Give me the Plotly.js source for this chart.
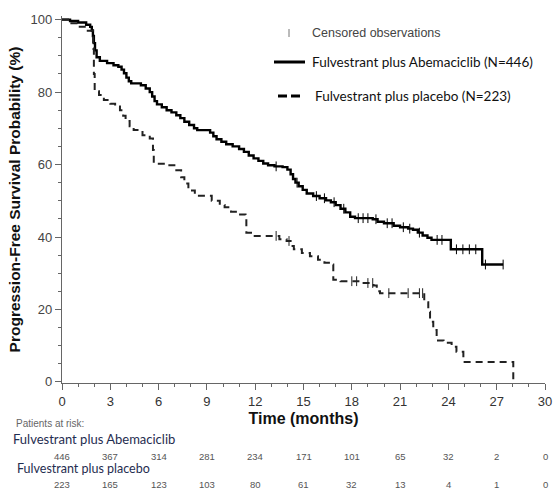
<!DOCTYPE html>
<html>
<head>
<meta charset="utf-8">
<script src="https://cdn.plot.ly/plotly-3.0.1.min.js"></script>
<style>html,body{margin:0;padding:0;background:#fff}#chart{width:557px;height:489px}</style>
</head>
<body>
<div id="chart"></div>
<script>
// Kaplan-Meier step points
const abemaTime = [0,0.5,1.0,1.5,1.75,1.85,1.92,1.98,2.05,2.15,2.35,2.8,3.2,3.5,3.7,3.85,4.0,4.15,4.3,4.9,5.2,5.45,5.6,5.75,5.9,6.2,6.5,6.8,7.1,7.35,7.6,7.9,8.2,8.4,9.2,9.4,9.6,9.9,10.2,10.6,11.0,11.3,11.6,11.9,12.2,12.5,12.8,13.2,13.7,14.0,14.2,14.35,14.5,14.7,14.95,15.2,15.6,16.0,16.4,16.7,17.0,17.3,17.6,17.9,18.2,19.3,19.6,20.0,20.6,21.0,21.5,21.8,22.1,22.4,22.7,22.95,24.15,26.1,27.4];
const abemaSurv = [100,99.6,99.2,98.6,98.0,97.0,95.5,93.5,91.5,89.6,88.6,88.0,87.4,87.0,86.2,85.2,84.0,83.0,82.4,81.9,81.0,80.0,78.8,77.5,76.6,75.8,75.0,74.4,73.6,72.8,71.8,70.9,70.0,69.5,68.8,67.8,67.0,66.3,65.6,65.0,64.3,63.5,62.5,61.7,61.0,60.3,59.8,59.5,59.3,58.6,57.3,56.0,55.0,54.0,53.0,52.0,51.3,50.7,50.1,49.6,48.8,47.8,46.8,45.6,45.2,44.9,44.2,43.8,43.1,42.7,42.3,42.0,41.2,40.4,39.8,39.2,36.6,32.4,32.4];

const placeboTime = [0,0.5,0.9,1.6,1.93,1.98,2.03,2.3,2.6,3.0,3.3,3.6,3.8,3.95,4.2,4.45,5.0,5.45,5.65,5.7,6.5,7.1,7.4,7.6,7.85,8.25,9.3,9.8,10.1,10.5,10.8,11.4,11.45,11.9,13.5,13.95,14.2,14.4,14.9,15.4,15.9,16.3,16.7,16.85,17.3,18.5,19.35,19.55,19.75,22.5,22.75,22.86,23.06,23.27,23.7,24.2,24.5,24.93,28.03];
const placeboSurv = [100,99.0,98.0,96.9,92.0,85.0,80.2,79.2,77.8,76.8,76.0,75.0,73.5,72.0,70.6,69.5,68.1,67.2,64.0,60.2,59.8,58.4,56.5,54.8,52.8,51.4,50.0,48.8,48.2,47.0,46.2,45.6,41.2,40.3,39.4,38.9,37.5,36.6,35.6,34.7,33.7,32.9,32.4,28.2,27.8,27.3,26.6,25.0,24.5,22.0,19.4,16.6,14.3,11.4,10.8,9.7,8.3,5.5,0];

// censored observation times
const abemaCensor = [13.3,14.6,15.8,16.3,16.9,17.5,18.4,18.7,19.0,19.5,20.2,20.5,21.2,21.6,22.2,23.3,23.6,24.5,24.9,25.3,25.7,26.3,27.4];
const placeboCensor = [13.3,14.1,18.0,18.3,19.0,19.3,20.3,21.5,22.2,22.4];

// at-risk table
const riskTimes = [0,3,6,9,12,15,18,21,24,27,30];
const abemaRisk = [446,367,314,281,234,171,101,65,32,2,0];
const placeboRisk = [223,165,123,103,80,61,32,13,4,1,0];

const armAbema = "Fulvestrant plus Abemaciclib";
const armPlacebo = "Fulvestrant plus placebo";
const legendCensor = "Censored observations";
const legendAbema = "Fulvestrant plus Abemaciclib (N=446)";
const legendPlacebo = "Fulvestrant plus placebo (N=223)";

function stepAt(times, surv, t){
  let v = surv[0];
  for (let i=0;i<times.length;i++){ if (times[i] <= t) v = surv[i]; else break; }
  return v;
}

const traces = [
  {x: abemaTime, y: abemaSurv, type:'scatter', mode:'lines', line:{shape:'hv', color:'#000', width:2.4}, showlegend:false, hoverinfo:'skip'},
  {x: placeboTime, y: placeboSurv, type:'scatter', mode:'lines', line:{shape:'hv', color:'#222', width:2, dash:'7px,5px'}, showlegend:false, hoverinfo:'skip'},
  {x: abemaCensor, y: abemaCensor.map(t=>stepAt(abemaTime, abemaSurv, t)), type:'scatter', mode:'markers', marker:{symbol:'line-ns-open', size:7, color:'#000', line:{width:1, color:'#000'}}, showlegend:false, hoverinfo:'skip'},
  {x: placeboCensor, y: placeboCensor.map(t=>stepAt(placeboTime, placeboSurv, t)), type:'scatter', mode:'markers', marker:{symbol:'line-ns-open', size:7, color:'#222', line:{width:1, color:'#222'}}, showlegend:false, hoverinfo:'skip'}
];

// paper coordinate helpers (plot area: top 16px, bottom 383px)
const T = 16, B = 383, H = B - T;
const py = p => (B - p) / H;
const L = 62, R = 545, W = R - L;
const px = p => (p - L) / W;

const annotations = [];
annotations.push({xref:'paper', yref:'paper', x:px(310), y:py(33), xanchor:'left', yanchor:'middle', text:legendCensor, showarrow:false, font:{family:'Liberation Sans, Arial', size:12.5, color:'#444'}});
annotations.push({xref:'paper', yref:'paper', x:px(310), y:py(62), xanchor:'left', yanchor:'middle', text:legendAbema, showarrow:false, font:{family:'Lato, Open Sans', size:13.5, color:'#111'}});
annotations.push({xref:'paper', yref:'paper', x:px(313), y:py(96), xanchor:'left', yanchor:'middle', text:legendPlacebo, showarrow:false, font:{family:'Lato, Open Sans', size:13.5, color:'#111'}});
annotations.push({xref:'paper', yref:'paper', x:px(14), y:py(423), xanchor:'left', yanchor:'middle', text:'Patients at risk:', showarrow:false, font:{family:'Liberation Sans, Arial', size:10, color:'#666'}});
annotations.push({xref:'paper', yref:'paper', x:px(11), y:py(439), xanchor:'left', yanchor:'middle', text:armAbema, showarrow:false, font:{family:'Lato, Open Sans', size:13, color:'#1f2d50'}});
annotations.push({xref:'paper', yref:'paper', x:px(15), y:py(469), xanchor:'left', yanchor:'middle', text:armPlacebo, showarrow:false, font:{family:'Lato, Open Sans', size:12.5, color:'#1f2d50'}});
riskTimes.forEach((t,i)=>{
  annotations.push({xref:'x', yref:'paper', x:t, y:py(456), xanchor:'center', yanchor:'middle', text:String(abemaRisk[i]), showarrow:false, font:{family:'Liberation Sans, Arial', size:9.5, color:'#555'}});
  annotations.push({xref:'x', yref:'paper', x:t, y:py(484), xanchor:'center', yanchor:'middle', text:String(placeboRisk[i]), showarrow:false, font:{family:'Liberation Sans, Arial', size:9.5, color:'#555'}});
});

const shapes = [
  {type:'line', xref:'paper', yref:'paper', x0:px(289), x1:px(289), y0:py(29), y1:py(37), line:{color:'#777', width:1}},
  {type:'line', xref:'paper', yref:'paper', x0:px(274), x1:px(305), y0:py(62), y1:py(62), line:{color:'#000', width:3}},
  {type:'line', xref:'paper', yref:'paper', x0:px(278), x1:px(304), y0:py(96), y1:py(96), line:{color:'#000', width:3, dash:'9px,4px'}}
];

const layout = {
  width:557, height:489,
  margin:{l:L, r:557-R, t:T, b:489-B},
  paper_bgcolor:'#fff', plot_bgcolor:'#fff',
  showlegend:false,
  xaxis:{range:[0,30], tickvals:riskTimes, ticks:'outside', ticklen:6, tickcolor:'#666', showline:true, linecolor:'#666', linewidth:1.2,
         showgrid:false, zeroline:false, tickfont:{family:'Liberation Sans, Arial', size:13, color:'#333'},
         minor:{dtick:1, ticks:'outside', ticklen:3, tickcolor:'#666', showgrid:false},
         title:{text:'<b>Time (months)</b>', standoff:5, font:{family:'Liberation Sans, Arial', size:16, color:'#111'}}},
  yaxis:{range:[-0.3,101], tickvals:[0,20,40,60,80,100], ticks:'outside', ticklen:6, tickcolor:'#666', showline:true, linecolor:'#666', linewidth:1.2,
         showgrid:false, zeroline:false, tickfont:{family:'Liberation Sans, Arial', size:13, color:'#444'},
         minor:{dtick:5, ticks:'outside', ticklen:3, tickcolor:'#666', showgrid:false},
         title:{text:'<b>Progression-Free Survival Probability (%)</b>', standoff:6, font:{family:'Liberation Sans, Arial', size:15.5, color:'#111'}}},
  annotations:annotations,
  shapes:shapes
};

Plotly.newPlot('chart', traces, layout, {displayModeBar:false, staticPlot:true});
</script>
</body>
</html>
